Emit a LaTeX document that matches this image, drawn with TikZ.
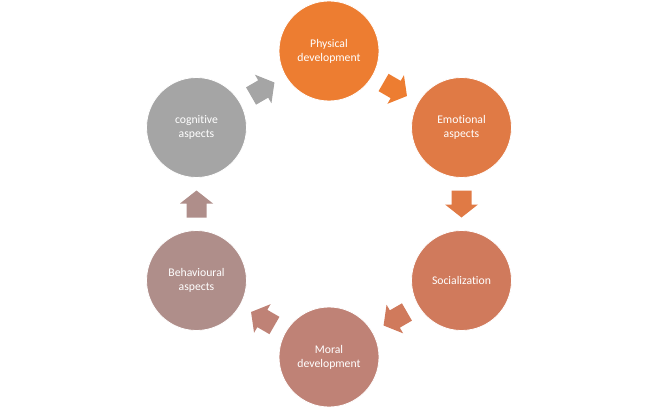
\documentclass[tikz,border=0pt]{standalone}
\usepackage{fontspec}
\setmainfont[Ligatures={NoCommon}]{Carlito}
\usetikzlibrary{calc}
\definecolor{cA}{HTML}{ED7D31}
\definecolor{cB}{HTML}{E07A45}
\definecolor{cC}{HTML}{D07A5C}
\definecolor{cD}{HTML}{BF8276}
\definecolor{cE}{HTML}{AF8E8A}
\definecolor{cF}{HTML}{A5A5A5}
\newcommand\flowarrow[4]{%
  \begin{scope}[shift={($(#1)!0.5!(#2)$)}, rotate=#3]
    \fill[#4] (-13.5,-10) -- (0.5,-10) -- (0.5,-16.5) -- (13.5,0) -- (0.5,16.5) -- (0.5,10) -- (-13.5,10) -- cycle;
  \end{scope}}
\begin{document}
\begin{tikzpicture}[x=1pt,y=1pt,
  stage/.style={circle, minimum size=100pt, inner sep=0pt, draw=white, line width=0.8pt,
    text=white, align=center, font=\fontsize{11.7}{14}\selectfont}]
\useasboundingbox (0,0) rectangle (661,413);
\coordinate (O) at (329,209);
\node[stage, fill=cA] (P) at ($(O)+(90:153)$) {Physical\\development};
\node[stage, fill=cB] (E) at ($(O)+(30:153)$) {Emotional\\aspects};
\node[stage, fill=cC] (S) at ($(O)+(-30:153)$) {Socialization};
\node[stage, fill=cD] (M) at ($(O)+(-90:153)$) {Moral\\development};
\node[stage, fill=cE] (B) at ($(O)+(210:153)$) {Behavioural\\aspects};
\node[stage, fill=cF] (C) at ($(O)+(150:153)$) {cognitive\\aspects};
\flowarrow{P}{E}{-30}{cA}
\flowarrow{E}{S}{-90}{cB}
\flowarrow{S}{M}{210}{cC}
\flowarrow{M}{B}{150}{cD}
\flowarrow{B}{C}{90}{cE}
\flowarrow{C}{P}{30}{cF}
\end{tikzpicture}
\end{document}
